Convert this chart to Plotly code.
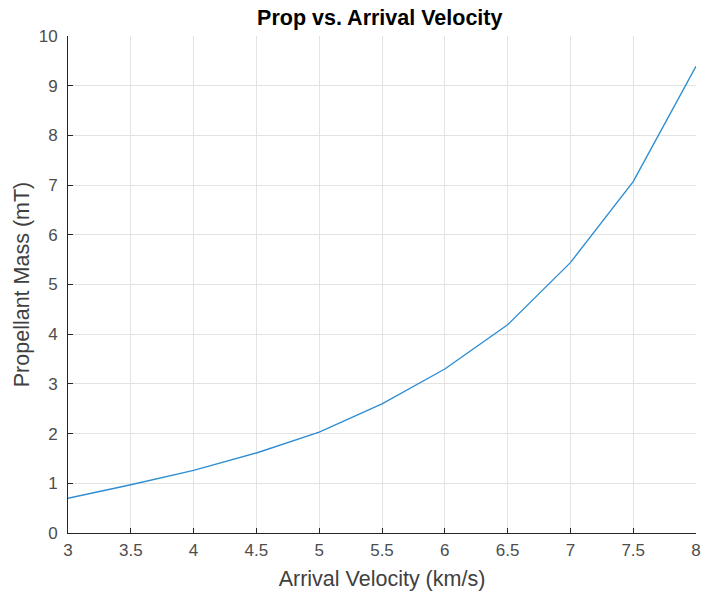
import plotly.graph_objects as go

velocity = [3, 3.5, 4, 4.5, 5, 5.5, 6, 6.5, 7, 7.5, 8]
prop_mass = [0.70, 0.97, 1.26, 1.61, 2.03, 2.60, 3.30, 4.19, 5.44, 7.07, 9.39]
x_ticks = [3, 3.5, 4, 4.5, 5, 5.5, 6, 6.5, 7, 7.5, 8]
y_ticks = list(range(0, 11))

fig = go.Figure()
fig.add_trace(go.Scatter(x=velocity, y=prop_mass, mode="lines",
                         line=dict(color="#2f8ed3", width=1.4),
                         showlegend=False, cliponaxis=False))

font = "Liberation Sans, Arial, Helvetica, sans-serif"
fig.update_layout(
    width=702, height=597,
    margin=dict(l=68, r=6, t=36, b=64, autoexpand=False),
    paper_bgcolor="white", plot_bgcolor="white",
    font=dict(family=font, color="#262626"),
    title=dict(text="<b>Prop vs. Arrival Velocity</b>", x=0.541, xanchor="center",
               y=0.970, yanchor="middle", font=dict(size=21.5, color="black")),
)
fig.update_xaxes(
    range=[3, 8], tickvals=x_ticks, ticktext=[f"{v:g}" for v in x_ticks],
    showgrid=True, gridcolor="#e3e3e3", gridwidth=1,
    showline=True, linecolor="#262626", linewidth=1,
    ticks="inside", ticklen=5, tickcolor="#262626",
    tickfont=dict(size=17, color="#4d4d4d"), ticklabelstandoff=2,
    title=dict(text="Arrival Velocity (km/s)", font=dict(size=21.5, color="#404040"), standoff=11),
    zeroline=False, automargin=False,
)
fig.update_yaxes(
    range=[0, 10], tickvals=y_ticks,
    showgrid=True, gridcolor="#e3e3e3", gridwidth=1,
    showline=True, linecolor="#262626", linewidth=1,
    ticks="inside", ticklen=5, tickcolor="#262626",
    tickfont=dict(size=17, color="#4d4d4d"), ticklabelstandoff=6,
    title=dict(text="Propellant Mass (mT)", font=dict(size=21.5, color="#404040"), standoff=3),
    zeroline=False, automargin=False,
)

fig.write_html("out.html", config={"displayModeBar": False},
               post_script="document.body.style.margin='0px';document.body.style.overflow='hidden';")
